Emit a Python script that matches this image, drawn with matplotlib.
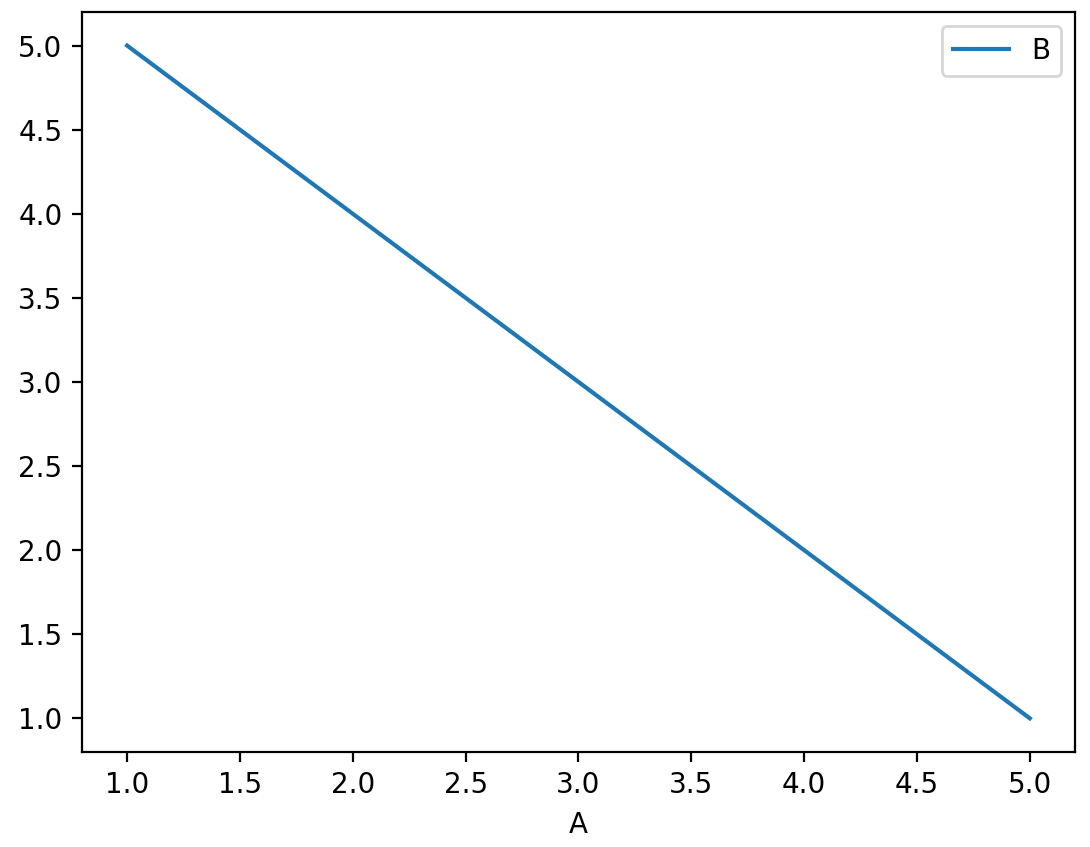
import numpy as np
import pandas as pd
import matplotlib
matplotlib.use("Agg")
import matplotlib.pyplot as plt

A = [1, 2, 3, 4, 5]
B = [5, 4, 3, 2, 1]

df = pd.DataFrame({"A": A, "B": B})

fig = plt.figure(figsize=(5.45, 4.235), dpi=200)
ax = fig.add_axes([0.0752, 0.1122, 0.911, 0.8737])
df.plot(x="A", y="B", ax=ax)

fig.savefig("out.png", dpi=200)
